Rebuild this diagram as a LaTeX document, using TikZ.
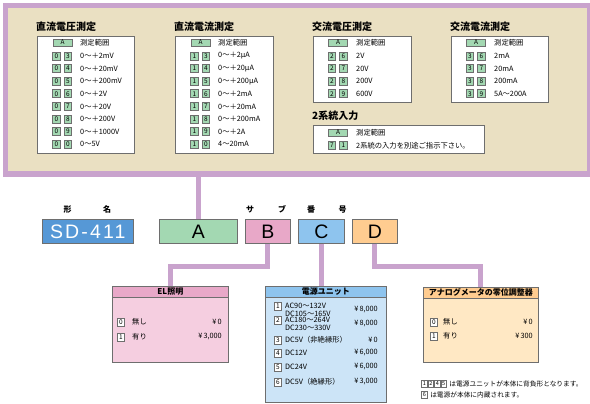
\documentclass[tikz,border=0pt]{standalone}
\usepackage{fontspec}
\setmainfont{Noto Sans CJK JP}
\newfontfamily\partfont{Liberation Sans}
\usetikzlibrary{positioning}

\definecolor{panelbeige}{RGB}{234,224,194}
\definecolor{framepurple}{RGB}{201,163,205}
\definecolor{codegreen}{RGB}{163,216,178}
\definecolor{modelblue}{RGB}{86,152,214}
\definecolor{partpink}{RGB}{232,168,200}
\definecolor{partblue}{RGB}{142,196,238}
\definecolor{partorange}{RGB}{255,204,144}
\definecolor{elbody}{RGB}{245,206,224}
\definecolor{unitbody}{RGB}{204,228,247}
\definecolor{adjbody}{RGB}{255,232,196}
\definecolor{edgegray}{RGB}{110,110,110}

\tikzset{
  tablebox/.style={draw=edgegray, fill=white, line width=0.7pt, anchor=north west, inner sep=0},
  tabletitle/.style={font=\fontsize{10}{10}\selectfont\bfseries, anchor=west, inner sep=0},
  codebox/.style={draw=edgegray, fill=codegreen, line width=0.6pt, minimum width=7.5pt, minimum height=8pt, inner sep=0, font=\fontsize{6.5}{6.5}\selectfont},
  wcodebox/.style={codebox, fill=white},
  notebox/.style={wcodebox, minimum width=5.5pt, minimum height=7pt, font=\fontsize{5.5}{5.5}\selectfont},
  rowtext/.style={font=\fontsize{7.3}{8}\selectfont, anchor=west, inner sep=0, align=left},
  notetext/.style={font=\fontsize{6.7}{6.7}\selectfont, anchor=west, inner sep=0},
  partlabel/.style={font=\fontsize{8}{8}\selectfont\bfseries, inner sep=0},
  partbox/.style={draw=edgegray, line width=0.6pt, minimum height=24pt, inner sep=0, anchor=north west, font=\partfont\fontsize{19.5}{19.5}\selectfont},
  optbox/.style={draw=edgegray, line width=0.7pt, anchor=north west, inner sep=0},
  opthead/.style={draw=edgegray, line width=0.7pt, anchor=north west, inner sep=0, minimum height=11pt, font=\fontsize{8}{8}\selectfont\bfseries},
  price/.style={font=\fontsize{7.3}{7.3}\selectfont, anchor=east, inner sep=0},
  conn/.style={draw=framepurple, line width=5pt},
}

\begin{document}
\begin{tikzpicture}[x=1pt, y=-1pt]
  \useasboundingbox (0,0) rectangle (590,404);

  % top panel
  \node[draw=framepurple, fill=panelbeige, line width=5.5pt, minimum width=584.5pt, minimum height=168.5pt, anchor=north west, inner sep=0] (panel) at (2.75,2.75) {};

  % DC voltage
  \node[tablebox, minimum width=97pt, minimum height=117pt] (dcv) at (37,36) {};
  \node[tabletitle] (dcv-title) at (36,27) {直流電圧測定};
  \node[codebox, minimum width=19pt, minimum height=7pt] (dcv-a) at (62.5,42.5) {A};
  \node[rowtext] (dcv-head) at (80,42.5) {測定範囲};
  \foreach \p/\q/\txt [count=\i] in {0/3/0〜＋2mV, 0/4/0〜＋20mV, 0/5/0〜＋200mV, 0/6/0〜＋2V, 0/7/0〜＋20V, 0/8/0〜＋200V, 0/9/0〜＋1000V, 0/0/0〜5V} {
    \node[codebox] (dcv-p\i) at (56.5,{43.4+12.6*\i}) {\p};
    \node[codebox] (dcv-q\i) at (68,{43.4+12.6*\i}) {\q};
    \node[rowtext] (dcv-t\i) at (80,{43.4+12.6*\i}) {\txt};
  }

  % DC current
  \node[tablebox, minimum width=98pt, minimum height=117pt] (dca) at (175,36) {};
  \node[tabletitle] (dca-title) at (174,27) {直流電流測定};
  \node[codebox, minimum width=19pt, minimum height=7pt] (dca-a) at (200.5,42.5) {A};
  \node[rowtext] (dca-head) at (218,42.5) {測定範囲};
  \foreach \p/\q/\txt [count=\i] in {1/3/0〜＋2μA, 1/4/0〜＋20μA, 1/5/0〜＋200μA, 1/6/0〜＋2mA, 1/7/0〜＋20mA, 1/8/0〜＋200mA, 1/9/0〜＋2A, 1/0/4〜20mA} {
    \node[codebox] (dca-p\i) at (194.5,{43.4+12.6*\i}) {\p};
    \node[codebox] (dca-q\i) at (206,{43.4+12.6*\i}) {\q};
    \node[rowtext] (dca-t\i) at (218,{43.4+12.6*\i}) {\txt};
  }

  % AC voltage
  \node[tablebox, minimum width=98pt, minimum height=66pt] (acv) at (313,36) {};
  \node[tabletitle] (acv-title) at (312,27) {交流電圧測定};
  \node[codebox, minimum width=19pt, minimum height=7pt] (acv-a) at (338,42.5) {A};
  \node[rowtext] (acv-head) at (356,42.5) {測定範囲};
  \foreach \p/\q/\txt [count=\i] in {2/6/2V, 2/7/20V, 2/8/200V, 2/9/600V} {
    \node[codebox] (acv-p\i) at (332,{43.4+12.6*\i}) {\p};
    \node[codebox] (acv-q\i) at (343.5,{43.4+12.6*\i}) {\q};
    \node[rowtext] (acv-t\i) at (356,{43.4+12.6*\i}) {\txt};
  }

  % AC current
  \node[tablebox, minimum width=97pt, minimum height=66pt] (aca) at (451,36) {};
  \node[tabletitle] (aca-title) at (450,27) {交流電流測定};
  \node[codebox, minimum width=19pt, minimum height=7pt] (aca-a) at (476,42.5) {A};
  \node[rowtext] (aca-head) at (494,42.5) {測定範囲};
  \foreach \p/\q/\txt [count=\i] in {3/6/2mA, 3/7/20mA, 3/8/200mA, 3/9/5A〜200A} {
    \node[codebox] (aca-p\i) at (470,{43.4+12.6*\i}) {\p};
    \node[codebox] (aca-q\i) at (481.5,{43.4+12.6*\i}) {\q};
    \node[rowtext] (aca-t\i) at (494,{43.4+12.6*\i}) {\txt};
  }

  % dual input
  \node[tablebox, minimum width=171pt, minimum height=28pt] (dual) at (313,125) {};
  \node[tabletitle] (dual-title) at (312,116) {2系統入力};
  \node[codebox, minimum width=19pt, minimum height=7pt] (dual-a) at (338,132.5) {A};
  \node[rowtext] (dual-head) at (356,132.5) {測定範囲};
  \node[codebox] (dual-p1) at (332,145.5) {7};
  \node[codebox] (dual-q1) at (343.5,145.5) {1};
  \node[rowtext] (dual-t1) at (356,145.5) {2系統の入力を別途ご指示下さい。};

  % model code row
  \node[partlabel] (kata) at (67.5,209.5) {形};
  \node[partlabel] (mei) at (107,209.5) {名};
  \node[partlabel] (sa) at (250,209.5) {サ};
  \node[partlabel] (bu) at (282,209.5) {ブ};
  \node[partlabel] (ban) at (311,209.5) {番};
  \node[partlabel] (gou) at (342.5,209.5) {号};

  \node[partbox, fill=modelblue, minimum width=91pt, text=white, font=\partfont\fontsize{19.5}{19.5}\selectfont\addfontfeature{LetterSpace=11}] (model) at (42,219) {SD-411};
  \node[partbox, fill=codegreen, minimum width=78pt] (partA) at (159,219) {A};
  \node[partbox, fill=partpink, minimum width=45pt] (partB) at (245,219) {B};
  \node[partbox, fill=partblue, minimum width=46pt] (partC) at (298,219) {C};
  \node[partbox, fill=partorange, minimum width=45pt] (partD) at (352,219) {D};

  % EL lighting
  \node[optbox, fill=elbody, minimum width=116pt, minimum height=76pt] (elbox) at (112,286) {};
  \node[opthead, fill=partpink, minimum width=116pt] (elhead) at (112,286) {EL照明};
  \foreach \n/\y/\txt/\cost in {0/322/無し/{¥\,0}, 1/337/有り/{¥\,3,000}} {
    \node[wcodebox] (el-c\n) at (121,\y) {\n};
    \node[rowtext] (el-t\n) at (132,\y) {\txt};
    \node[price] (el-p\n) at (222,\y) {\cost};
  }

  % power unit
  \node[optbox, fill=unitbody, minimum width=121pt, minimum height=116pt] (unitbox) at (265,286) {};
  \node[opthead, fill=partblue, minimum width=121pt] (unithead) at (265,286) {電源ユニット};
  \foreach \n/\y/\d/\txt/\cost in {1/306/3.5/{AC90〜132V\\DC105〜165V}/{¥\,8,000}, 2/320/4/{AC180〜264V\\DC230〜330V}/{¥\,8,000}, 3/340/0/{DC5V（非絶縁形）}/{¥\,0}, 4/353/0/DC12V/{¥\,6,000}, 5/367/0/DC24V/{¥\,6,000}, 6/382/0/{DC5V（絶縁形）}/{¥\,3,000}} {
    \node[wcodebox] (unit-c\n) at (278,\y) {\n};
    \node[rowtext] (unit-t\n) at (285,\y+\d) {\txt};
    \node[price] (unit-p\n) at (378,\y+\d) {\cost};
  }

  % zero adjuster
  \node[optbox, fill=adjbody, minimum width=115pt, minimum height=75pt] (adjbox) at (423,287) {};
  \node[opthead, fill=partorange, minimum width=115pt] (adjhead) at (423,287) {アナログメータの零位調整器};
  \foreach \n/\y/\txt/\cost in {0/322/無し/{¥\,0}, 1/336/有り/{¥\,300}} {
    \node[wcodebox] (adj-c\n) at (434,\y) {\n};
    \node[rowtext] (adj-t\n) at (443,\y) {\txt};
    \node[price] (adj-p\n) at (533,\y) {\cost};
  }

  % notes
  \node[notebox] (n1) at (424.5,384) {1};
  \node[notebox, right=0.3pt of n1] (n2) {2};
  \node[notebox, right=0.3pt of n2] (n4) {4};
  \node[notebox, right=0.3pt of n4] (n5) {5};
  \node[notetext, right=2.5pt of n5] (note1) {は電源ユニットが本体に背負形となります。};
  \node[notebox] (n6) at (424.5,395) {6};
  \node[notetext, right=2.5pt of n6] (note2) {は電源が本体に内蔵されます。};

  % connectors
  \draw[conn] (partA.north) -- (partA.north |- panel.south);
  \draw[conn] (partB.south) -- ++(0,23) -| (elhead.north);
  \draw[conn] (partC.south) -- (partC.south |- unithead.north);
  \draw[conn] (partD.south) -- ++(0,23) -| (adjhead.north);
\end{tikzpicture}
\end{document}
